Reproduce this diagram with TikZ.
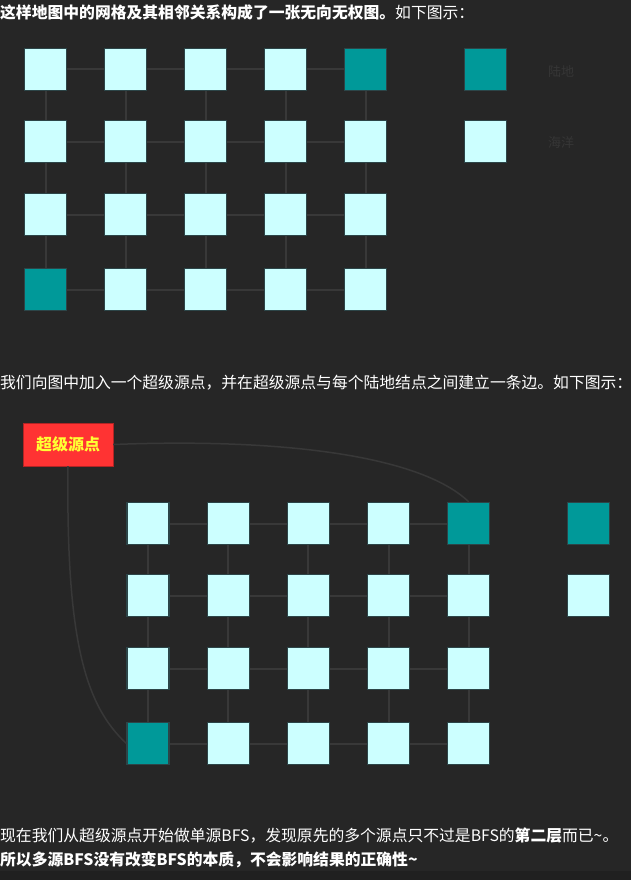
\documentclass[tikz,border=0pt]{standalone}
\usepackage{fontspec}
\setmainfont{Noto Sans CJK SC}
\usetikzlibrary{positioning}

\definecolor{bgdark}{HTML}{262626}
\definecolor{seacol}{HTML}{CCFFFF}
\definecolor{landcol}{HTML}{009999}
\definecolor{cellline}{HTML}{2C4548}
\definecolor{edgecol}{HTML}{383838}
\definecolor{srcred}{HTML}{FF3333}
\definecolor{srcyellow}{HTML}{FFFF33}
\definecolor{faint}{HTML}{363636}

\begin{document}
\begin{tikzpicture}[
  x=1pt, y=-1pt,
  cell/.style={rectangle, draw=cellline, line width=1.2pt, minimum size=42pt, inner sep=0pt},
  sea/.style={fill=seacol},
  land/.style={fill=landcol},
  edge/.style={draw=edgecol, line width=2pt},
  link/.style={draw=edgecol, line width=1.5pt},
  txt/.style={anchor=west, inner sep=0pt, text=white, font=\fontsize{15.8}{18}\selectfont},
  legend/.style={text=faint, font=\fontsize{13}{15}\selectfont},
  source/.style={rectangle, fill=srcred, draw=srcred!70!black, minimum width=90pt, minimum height=43pt, text=srcyellow, font=\fontsize{16}{18}\selectfont\bfseries}
]
\fill[bgdark] (0,0) rectangle (631,880);
\fill[black!15!bgdark] (0,871) rectangle (631,880);
\useasboundingbox (0,0) rectangle (631,880);

% First picture: the map grid
\node[txt] (line1) at (0,12) {{\bfseries 这样地图中的网格及其相邻关系构成了一张无向无权图。}如下图示：};

\foreach \r/\y in {1/69.5,2/141.5,3/214.5,4/289.5}
  \foreach \c in {1,...,5} {
    \pgfmathsetmacro\x{45.5+80*(\c-1)}
    \pgfmathsetmacro\kind{ifthenelse(or(and(\r==1,\c==5),and(\r==4,\c==1)),"land","sea")}
    \node[cell,\kind] (a\r\c) at (\x,\y) {};
  }
\foreach \r in {1,...,4}
  \foreach \c/\n in {1/2,2/3,3/4,4/5}
    \draw[edge] (a\r\c) -- (a\r\n);
\foreach \r/\n in {1/2,2/3,3/4}
  \foreach \c in {1,...,5}
    \draw[edge] (a\r\c) -- (a\n\c);

% Legend
\node[cell,land] (keyland) at (485.5,69.5) {};
\node[cell,sea] (keysea) at (485.5,141.5) {};
\node[legend] (keylandtxt) at (561,72) {陆地};
\node[legend] (keyseatxt) at (561,143) {海洋};

% Second picture: with the super source
\node[txt] (line2) at (0,383) {我们向图中加入一个超级源点，并在超级源点与每个陆地结点之间建立一条边。如下图示：};

\node[source] (super) at (68,444.5) {超级源点};

\foreach \r/\y in {1/523.5,2/595.5,3/668.5,4/743.5}
  \foreach \c in {1,...,5} {
    \pgfmathsetmacro\x{148+80.2*(\c-1)}
    \pgfmathsetmacro\kind{ifthenelse(or(and(\r==1,\c==5),and(\r==4,\c==1)),"land","sea")}
    \node[cell,\kind] (b\r\c) at (\x,\y) {};
  }
\foreach \r in {1,...,4}
  \foreach \c/\n in {1/2,2/3,3/4,4/5}
    \draw[edge] (b\r\c) -- (b\r\n);
\foreach \r/\n in {1/2,2/3,3/4}
  \foreach \c in {1,...,5}
    \draw[edge] (b\r\c) -- (b\n\c);

\node[cell,land] (keyland2) at (588.5,523.5) {};
\node[cell,sea] (keysea2) at (588.5,595.5) {};

% Edges from the super source to the land cells
\draw[link] (super.east) .. controls (280,438) and (420,455) .. (b15.north);
\draw[link] (super.south) .. controls (66,640) and (85,705) .. (b41.west);

% Closing text
\node[txt] (line3) at (0,836) {现在我们从超级源点开始做单源BFS，发现原先的多个源点只不过是BFS的{\bfseries 第二层}而已\textasciitilde。};
\node[txt] (line4) at (0,860) {\bfseries 所以多源BFS没有改变BFS的本质，不会影响结果的正确性\textasciitilde};

\end{tikzpicture}
\end{document}
